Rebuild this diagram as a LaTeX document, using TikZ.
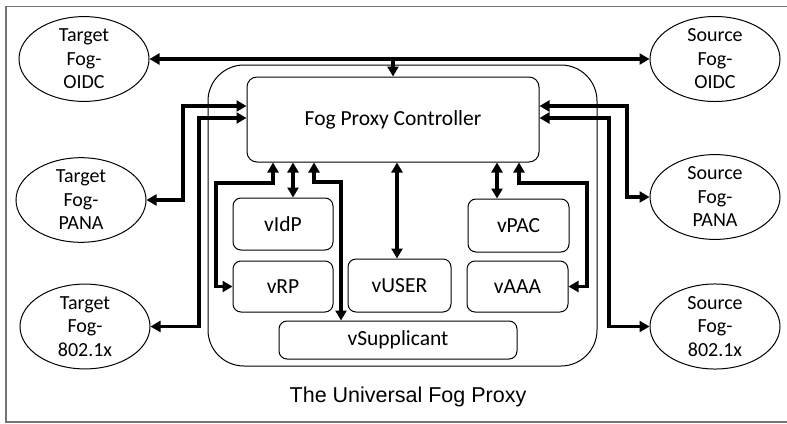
\documentclass[tikz,border=0pt]{standalone}
\usepackage{fontspec}
\setmainfont{Carlito}
\newfontfamily\capfont{Liberation Sans}
\usetikzlibrary{arrows.meta,shapes.geometric}
\begin{document}
\begin{tikzpicture}[x=1pt,y=-1pt,
  ell/.style={draw,ellipse,line width=1pt,minimum width=130pt,minimum height=76pt,inner sep=0pt,align=center,font=\fontsize{20}{23.5}\selectfont},
  box/.style={draw,rounded corners=8pt,line width=1pt,inner sep=0pt,font=\fontsize{21.5}{25}\selectfont},
  tip/.tip={Triangle[length=10pt,width=11pt]},
  dbl/.style={line width=3.4pt,tip-tip},
  one/.style={line width=3.4pt,-tip},
  frame/.style={draw=black!55,line width=1.8pt}]
\useasboundingbox (0,0) rectangle (787,423);
\draw[frame] (787,6.5) -- (6,6.5) -- (6,422) -- (787,422);
% outer container
\draw[line width=1pt,rounded corners=36pt] (208,65) rectangle (597,366);
\node[font=\capfont\fontsize{21.5}{26}\selectfont] (cap) at (408,397) {The Universal Fog Proxy};
% ellipses
\node[ell] (TO) at (84,59) {Target\\Fog-\\OIDC};
\node[ell] (TP) at (81,200) {Target\\Fog-\\PANA};
\node[ell] (TX) at (85,326.5) {Target\\Fog-\\802.1x};
\node[ell] (SO) at (715,59) {Source\\Fog-\\OIDC};
\node[ell] (SP) at (715,197) {Source\\Fog-\\PANA};
\node[ell] (SX) at (715,326.5) {Source\\Fog-\\802.1x};
% boxes
\node[box,rounded corners=10pt,minimum width=292pt,minimum height=85pt] (FPC) at (393,119.5) {Fog Proxy Controller};
\node[box,minimum width=100pt,minimum height=52pt] (vIdP) at (283,224) {vIdP};
\node[box,minimum width=100pt,minimum height=51pt] (vRP) at (283,286.5) {vRP};
\node[box,minimum width=103pt,minimum height=53pt] (vUSER) at (399.5,285.5) {vUSER};
\node[box,minimum width=101pt,minimum height=53pt] (vPAC) at (518.5,225.5) {vPAC};
\node[box,minimum width=101pt,minimum height=51pt] (vAAA) at (517.5,286.5) {vAAA};
\node[box,minimum width=238pt,minimum height=38pt] (vSup) at (398,340) {vSupplicant};
% connectors
\draw[dbl] (TO.east) -- (SO.west);
\draw[one] (FPC.north |- TO.east) -- (FPC.north);
\draw[dbl] (TP.east) -- (183,200) -- (183,106) -- (FPC.west |- 0,106);
\draw[dbl] (TX.east) -- (199,326.5) -- (199,118) -- (FPC.west |- 0,118);
\draw[dbl] (FPC.east |- 0,106) -- (627,106) -- (627,197) -- (SP.west);
\draw[dbl] (FPC.east |- 0,118) -- (609,118) -- (609,326.5) -- (SX.west);
\draw[dbl] (vRP.west) -- (216,286.5) -- (216,183) -- (273,183) -- (273,0 |- FPC.south);
\draw[dbl] (293,0 |- FPC.south) -- (293,0 |- vIdP.north);
\draw[dbl] (314,0 |- FPC.south) -- (314,182) -- (341,182) -- (341,0 |- vSup.north);
\draw[dbl] (397,0 |- FPC.south) -- (397,0 |- vUSER.north);
\draw[dbl] (497,0 |- FPC.south) -- (497,0 |- vPAC.north);
\draw[dbl] (519,0 |- FPC.south) -- (519,183) -- (587,183) -- (587,286.5) -- (vAAA.east);
\end{tikzpicture}
\end{document}
